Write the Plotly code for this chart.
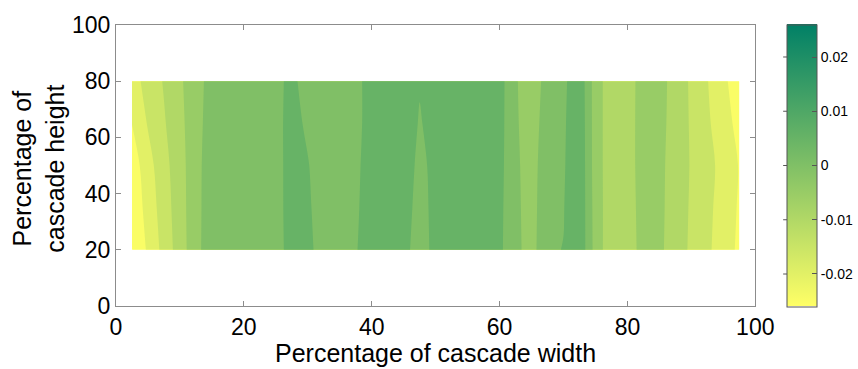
import numpy as np
import plotly.graph_objects as go

# grid of the measured field (percentage of cascade width / height)
x_pos = [2.5, 5, 7.5, 10, 12.5, 15, 17.5, 20, 22.5, 25, 27.5, 30, 32.5, 35, 37.5,
         40, 42.5, 45, 47.5, 50, 52.5, 55, 57.5, 60, 62.5, 65, 67.5, 70, 72.5, 75,
         77.5, 80, 82.5, 85, 87.5, 90, 92.5, 95, 97.5]
y_pos = [20, 35, 50, 65, 80]

row_20 = [-0.0252, -0.0192, -0.0133, -0.0074, -0.0017, 0.0035, 0.0036, 0.0037, 0.0040, 0.0042,
          0.0058, 0.0055, 0.0041, 0.0041, 0.0049, 0.0058, 0.0060, 0.0060, 0.0035, 0.0060,
          0.0064, 0.0064, 0.0062, 0.0060, 0.0012, -0.0020, 0.0045, 0.0051, 0.0090, -0.0020,
          -0.0085, -0.0070, -0.0035, -0.0035, -0.0088, -0.0104, -0.0141, -0.0175, -0.0210]
row_35 = [-0.0240, -0.0180, -0.0125, -0.0071, -0.0017, 0.0032, 0.0035, 0.0037, 0.0040, 0.0043,
          0.0058, 0.0053, 0.0040, 0.0040, 0.0048, 0.0057, 0.0062, 0.0063, 0.0039, 0.0059,
          0.0064, 0.0064, 0.0061, 0.0062, 0.0011, -0.0022, 0.0042, 0.0048, 0.0090, -0.0022,
          -0.0082, -0.0068, -0.0034, -0.0032, -0.0087, -0.0103, -0.0138, -0.0171, -0.0206]
row_50 = [-0.0229, -0.0169, -0.0117, -0.0069, -0.0017, 0.0030, 0.0034, 0.0036, 0.0040, 0.0044,
          0.0057, 0.0051, 0.0040, 0.0040, 0.0047, 0.0057, 0.0062, 0.0065, 0.0043, 0.0058,
          0.0064, 0.0063, 0.0061, 0.0065, 0.0010, -0.0025, 0.0040, 0.0045, 0.0090, -0.0025,
          -0.0080, -0.0066, -0.0033, -0.0030, -0.0086, -0.0102, -0.0134, -0.0167, -0.0203]
row_65 = [-0.0199, -0.0146, -0.0105, -0.0063, -0.0019, 0.0025, 0.0032, 0.0036, 0.0040, 0.0045,
          0.0056, 0.0047, 0.0039, 0.0040, 0.0046, 0.0056, 0.0062, 0.0065, 0.0048, 0.0060,
          0.0065, 0.0063, 0.0061, 0.0068, 0.0007, -0.0028, 0.0030, 0.0043, 0.0088, -0.0025,
          -0.0080, -0.0065, -0.0034, -0.0027, -0.0080, -0.0104, -0.0142, -0.0180, -0.0215]
row_80 = [-0.0170, -0.0133, -0.0096, -0.0058, -0.0018, 0.0018, 0.0030, 0.0036, 0.0040, 0.0045,
          0.0055, 0.0041, 0.0038, 0.0040, 0.0046, 0.0056, 0.0062, 0.0065, 0.0052, 0.0066,
          0.0065, 0.0063, 0.0062, 0.0070, 0.0005, -0.0030, 0.0020, 0.0040, 0.0085, -0.0025,
          -0.0080, -0.0065, -0.0035, -0.0025, -0.0077, -0.0106, -0.0148, -0.0190, -0.0226]

cbar_ticks = [-0.02, -0.01, 0, 0.01, 0.02]
cbar_text = ["-0.02", "-0.01", "0", "0.01", "0.02"]
axis_ticks = [0, 20, 40, 60, 80, 100]

C_MIN, C_MAX = -0.026, 0.026
LV_START, LV_END, LV_SIZE = -0.025, 0.025, 0.005

z = [row_20, row_35, row_50, row_65, row_80]


def summer_rev(v):
    t = min(max((C_MAX - v) / (C_MAX - C_MIN), 0.0), 1.0)
    return "rgb(%d,%d,%d)" % (round(255 * t), round(255 * (0.5 + 0.5 * t)), 102)


# plotly fills band [L, L+size] with the colour at L+size/2 on a scale spanning
# start-size/2 .. start-size/2 + n*size ; build it so each band gets summer(L)
n_lv = int(round((LV_END - LV_START) / LV_SIZE)) + 1
lo = LV_START - LV_SIZE / 2
span = n_lv * LV_SIZE
fill_scale = []
for s in np.linspace(0, 1, 221):
    v = lo + s * span
    fill_scale.append([float(s), summer_rev(v - LV_SIZE / 2)])

FONT = "Liberation Sans, Arial, Helvetica, sans-serif"
PLOT_L, PLOT_W = 116, 643
CB_LEFT, CB_THICK, CB_LEN = 787, 30, 1.004

fig = go.Figure()
fig.add_trace(go.Contour(
    x=x_pos, y=y_pos, z=z,
    autocontour=False,
    contours=dict(start=LV_START, end=LV_END, size=LV_SIZE, coloring="fill", showlines=False),
    line=dict(width=0),
    colorscale=fill_scale,
    showscale=False,
    hoverinfo="skip",
))

# continuous colour bar (MATLAB style)
fig.add_trace(go.Scatter(
    x=[50], y=[50], mode="markers", hoverinfo="skip", showlegend=False,
    marker=dict(size=1, opacity=0, color=[0], cmin=C_MIN, cmax=C_MAX,
                colorscale=[[0, summer_rev(C_MIN)], [1, summer_rev(C_MAX)]],
                showscale=True,
                colorbar=dict(
                    thickness=CB_THICK, thicknessmode="pixels",
                    len=CB_LEN, lenmode="fraction",
                    xref="container", x=CB_LEFT / 858, xanchor="left", xpad=0,
                    y=0.5, yanchor="middle", ypad=0,
                    outlinecolor="#555555", outlinewidth=1,
                    ticks="inside", ticklen=5, tickcolor="#555555",
                    tickvals=cbar_ticks, ticktext=cbar_text,
                    tickfont=dict(family=FONT, size=14, color="black"),
                    bgcolor="rgba(0,0,0,0)", borderwidth=0,
                ))
))

# MATLAB colorbars carry ticks on the left edge too
cb_x0 = (CB_LEFT - PLOT_L) / PLOT_W
cb_x1 = (CB_LEFT + 5 - PLOT_L) / PLOT_W
shapes = []
for v in cbar_ticks:
    yy = 0.5 - CB_LEN / 2 + CB_LEN * (v - C_MIN) / (C_MAX - C_MIN)
    shapes.append(dict(type="line", xref="paper", yref="paper", x0=cb_x0, x1=cb_x1,
                       y0=yy, y1=yy, line=dict(color="#555555", width=1)))

axis_common = dict(
    range=[0, 100], tickvals=axis_ticks, ticktext=[str(t) for t in axis_ticks],
    ticks="inside", ticklen=5, tickcolor="#8c8c8c", tickwidth=1,
    showline=True, linecolor="#8c8c8c", linewidth=1, mirror="ticks",
    showgrid=False, zeroline=False,
    tickfont=dict(family=FONT, size=23, color="black"),
)

fig.update_layout(
    width=858, height=369,
    margin=dict(l=PLOT_L, r=858 - PLOT_L - PLOT_W, t=16, b=63, pad=0),
    paper_bgcolor="white", plot_bgcolor="white",
    xaxis=dict(**axis_common),
    yaxis=dict(**axis_common),
    showlegend=False,
    shapes=shapes,
    annotations=[
        dict(text="Percentage of cascade width", x=0.5, y=(306 - 355) / 290,
             xref="paper", yref="paper", xanchor="center", yanchor="middle",
             showarrow=False, font=dict(family=FONT, size=25, color="black")),
        dict(text="Percentage of<br>cascade height", x=(38 - PLOT_L) / PLOT_W, y=0.49,
             xref="paper", yref="paper", xanchor="center", yanchor="middle",
             textangle=-90, showarrow=False,
             font=dict(family=FONT, size=25, color="black")),
    ],
)

fig.write_html("out.html")
